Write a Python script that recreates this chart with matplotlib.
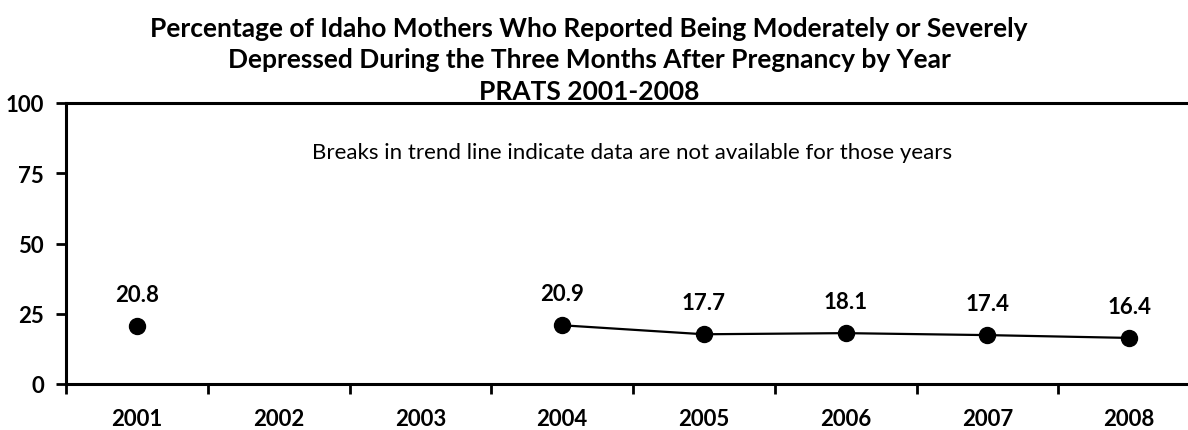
import numpy as np
import matplotlib
matplotlib.use("Agg")
import matplotlib.pyplot as plt

# PRATS survey results, missing years left as NaN so the line breaks
years = ["2001", "2002", "2003", "2004", "2005", "2006", "2007", "2008"]
percent = [20.8, np.nan, np.nan, 20.9, 17.7, 18.1, 17.4, 16.4]
yticks = [0, 25, 50, 75, 100]

plt.rcParams['font.family'] = ['Lato', 'DejaVu Sans']

fig = plt.figure(figsize=(11.88, 4.31), dpi=100)
ax = fig.add_axes([66 / 1188, 46 / 431, 1134 / 1188, 281 / 431])

x = np.arange(len(years))
ax.plot(x, percent, color="black", linewidth=1.6, marker="o", markersize=11.5)

for xi, v in zip(x, percent):
    if not np.isnan(v):
        ax.annotate("%.1f" % v, (xi, v), xytext=(0, 18), textcoords="offset points",
                    ha="center", va="baseline", fontsize=16, fontweight="bold")

ax.set_xlim(-0.5, len(years) - 0.5)
ax.set_ylim(0, 100)
ax.set_yticks(yticks)
ax.set_yticklabels([str(t) for t in yticks], fontsize=16, fontweight="bold")

# category labels centred, tick marks between categories
ax.set_xticks(np.arange(len(years) + 1) - 0.5)
ax.set_xticklabels([])
ax.set_xticks(x, minor=True)
ax.set_xticklabels(years, minor=True, fontsize=16, fontweight="bold")
ax.tick_params(axis="x", which="major", direction="out", length=7, width=2)
ax.tick_params(axis="x", which="minor", length=0, pad=17.5)
ax.tick_params(axis="y", direction="out", length=7, width=2, pad=9)

ax.axhline(100, color="black", linewidth=2.2, clip_on=False)
for side in ["top", "right"]:
    ax.spines[side].set_visible(False)
for side in ["left", "bottom"]:
    ax.spines[side].set_linewidth(2.2)

ax.text(0.499, 0.804, "Breaks in trend line indicate data are not available for those years",
        transform=ax.transAxes, ha="center", va="baseline", fontsize=16)

fig.text(0.496, (431 - 100) / 431, "Percentage of Idaho Mothers Who Reported Being Moderately or Severely\n"
         "Depressed During the Three Months After Pregnancy by Year\nPRATS 2001-2008",
         ha="center", va="baseline", fontsize=19, fontweight="bold", linespacing=1.38)

fig.savefig("out.png", dpi=100)
